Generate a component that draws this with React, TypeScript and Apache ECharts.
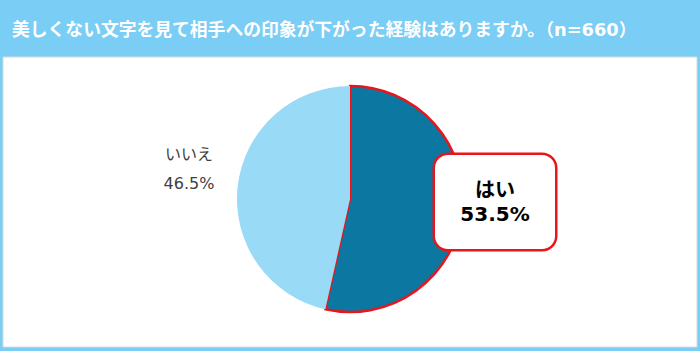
import React, { useEffect, useRef } from "react";
import * as echarts from "echarts";

const titleText = "美しくない文字を見て相手への印象が下がった経験はありますか。（n=660）";
const categories = ["はい", "いいえ"];
const values = [53.5, 46.5];
const colors = ["#0C77A0", "#99DAF6"];

export default function App() {
  const ref = useRef<HTMLDivElement>(null);
  useEffect(() => {
    document.body.style.margin = "0";
    const chart = echarts.init(ref.current!, null, { renderer: "svg" });
    const font = '"DejaVu Sans", "Noto Sans CJK JP", sans-serif';
    chart.setOption({
      animation: false,
      graphic: [
        { type: "rect", shape: { x: 0, y: 0, width: 700, height: 351 }, style: { fill: "#7ACDF4" }, z: -10 },
        { type: "rect", shape: { x: 3, y: 57, width: 694, height: 290 }, style: { fill: "#ffffff", stroke: "#d8d8d8", lineWidth: 1 }, z: -9 },
      ],
      title: {
        text: titleText,
        left: 7,
        top: 16,
        textStyle: { color: "#ffffff", fontSize: 17.8, fontWeight: "bold", fontFamily: font },
      },
      series: [
        {
          type: "pie",
          center: [350, 199],
          radius: [0, 113],
          startAngle: 90,
          clockwise: true,
          labelLine: { show: false },
          data: categories.map((c, i) => ({
            name: c,
            value: values[i],
            itemStyle:
              i === 0
                ? { color: colors[i], borderColor: "#E8151B", borderWidth: 2.5 }
                : { color: colors[i], borderWidth: 0 },
            label:
              i === 0
                ? {
                    show: true,
                    formatter: "{b}\n{c}%",
                    backgroundColor: "#ffffff",
                    borderColor: "#E8151B",
                    borderWidth: 2.5,
                    borderRadius: 13,
                    width: 120,
                    height: 94,
                    align: "center",
                    verticalAlign: "middle",
                    lineHeight: 24,
                    color: "#000000",
                    fontSize: 20,
                    fontWeight: "bold",
                    fontFamily: font,
                  }
                : {
                    show: true,
                    formatter: "{b}\n{c}%",
                    align: "center",
                    verticalAlign: "middle",
                    lineHeight: 29,
                    color: "#404040",
                    fontSize: 16,
                    fontFamily: font,
                  },
          })),
          labelLayout: (p: any) =>
            p.dataIndex === 0
              ? { x: 495, y: 202, align: "center", verticalAlign: "middle" }
              : { x: 189, y: 169, align: "center", verticalAlign: "middle" },
        },
      ],
    });
    return () => chart.dispose();
  }, []);
  return <div ref={ref} style={{ width: 700, height: 351 }} />;
}
